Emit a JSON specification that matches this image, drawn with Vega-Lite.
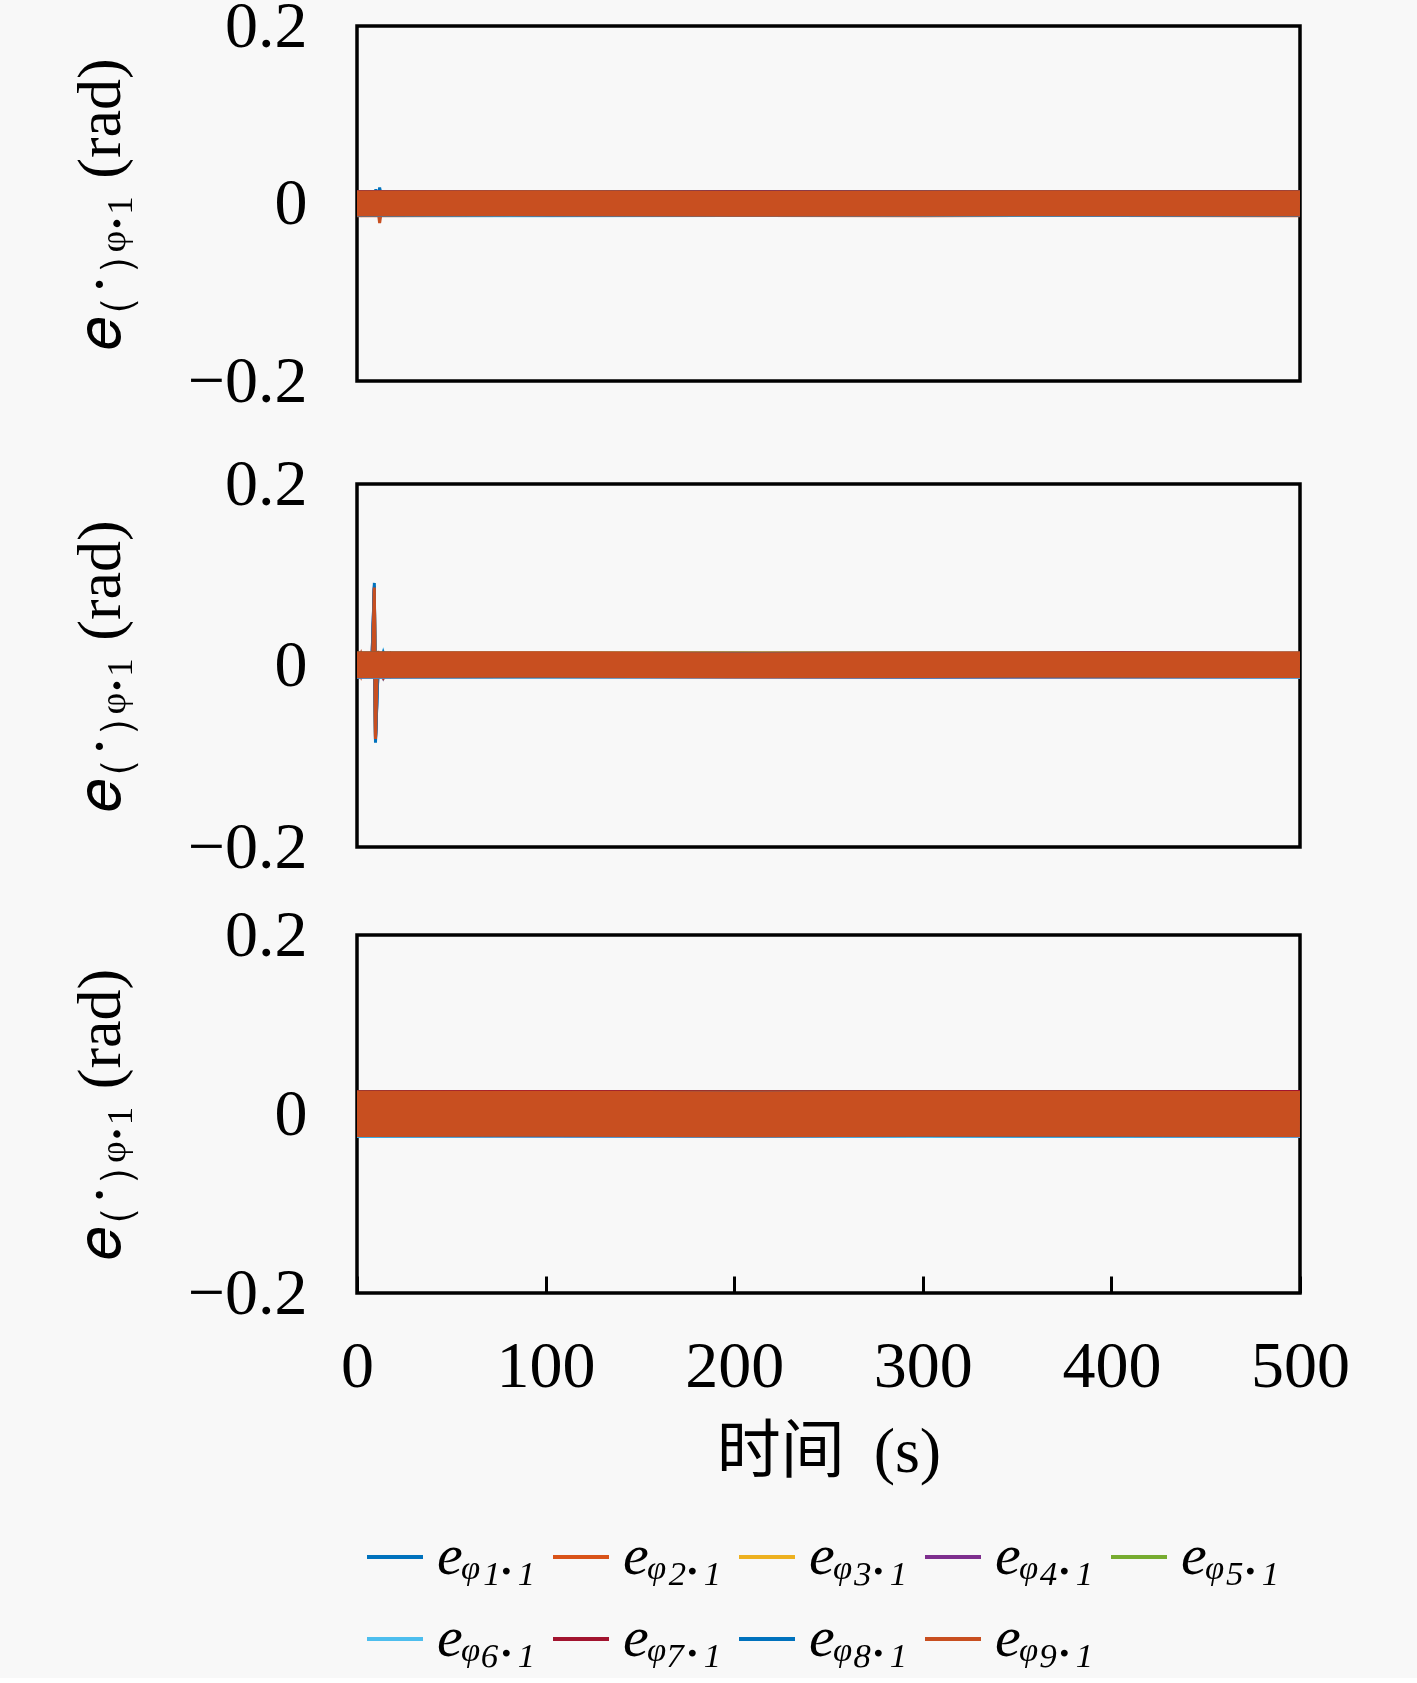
{
  "$schema": "https://vega.github.io/schema/vega-lite/v6.json",
  "background": "#f8f8f8",
  "padding": {"left": 67, "top": -9, "right": 69, "bottom": 10},
  "config": {
    "font": "Liberation Serif",
    "view": {"stroke": "#000", "strokeWidth": 3.5},
    "axis": {"grid": false, "domain": false, "labelFont": "Liberation Serif", "titleFont": "Liberation Serif, Noto Sans CJK SC", "labelColor": "#000", "titleColor": "#000", "titleFontWeight": "normal", "labelFontSize": 66, "titleFontSize": 62}
  },
  "datasets": {
    "band1": [
      {"s":1,"t":0,"v":0.0002},{"s":1,"t":100,"v":0},{"s":1,"t":200,"v":0.0002},{"s":1,"t":300,"v":0.0001},{"s":1,"t":400,"v":0.0002},{"s":1,"t":500,"v":0},
      {"s":2,"t":0,"v":-0.0008},{"s":2,"t":100,"v":-0.0006},{"s":2,"t":200,"v":-0.0005},{"s":2,"t":300,"v":-0.0008},{"s":2,"t":400,"v":-0.0006},{"s":2,"t":500,"v":-0.0008},
      {"s":3,"t":0,"v":0.0005},{"s":3,"t":100,"v":0.0007},{"s":3,"t":200,"v":0.0004},{"s":3,"t":300,"v":0.0006},{"s":3,"t":400,"v":0.0005},{"s":3,"t":500,"v":0.0007},
      {"s":4,"t":0,"v":-0.0005},{"s":4,"t":100,"v":-0.0004},{"s":4,"t":200,"v":-0.0006},{"s":4,"t":300,"v":-0.0005},{"s":4,"t":400,"v":-0.0007},{"s":4,"t":500,"v":-0.0005},
      {"s":5,"t":0,"v":0.0004},{"s":5,"t":100,"v":0.0005},{"s":5,"t":200,"v":0.0006},{"s":5,"t":300,"v":0.0004},{"s":5,"t":400,"v":0.0005},{"s":5,"t":500,"v":0.0006},
      {"s":6,"t":0,"v":-0.0006},{"s":6,"t":100,"v":-0.0008},{"s":6,"t":200,"v":-0.0005},{"s":6,"t":300,"v":-0.0006},{"s":6,"t":400,"v":-0.0004},{"s":6,"t":500,"v":-0.0006},
      {"s":7,"t":0,"v":0.0006},{"s":7,"t":100,"v":0.0004},{"s":7,"t":200,"v":0.0005},{"s":7,"t":300,"v":0.0007},{"s":7,"t":400,"v":0.0006},{"s":7,"t":500,"v":0.0004},
      {"s":8,"t":0,"v":-0.0002},{"s":8,"t":100,"v":0},{"s":8,"t":200,"v":-0.0002},{"s":8,"t":300,"v":-0.0001},{"s":8,"t":400,"v":0},{"s":8,"t":500,"v":-0.0002},
      {"s":9,"t":0,"v":0},{"s":9,"t":100,"v":0.0003},{"s":9,"t":200,"v":-0.0003},{"s":9,"t":300,"v":0},{"s":9,"t":400,"v":0.0003},{"s":9,"t":500,"v":0}
    ],
    "band2": [
      {"s":1,"t":0,"v":0.0007},{"s":1,"t":100,"v":0.0006},{"s":1,"t":200,"v":0.0007},{"s":1,"t":300,"v":0.0005},{"s":1,"t":400,"v":0.0006},{"s":1,"t":500,"v":0.0007},
      {"s":2,"t":0,"v":-0.0003},{"s":2,"t":100,"v":-0.0001},{"s":2,"t":200,"v":-0.0004},{"s":2,"t":300,"v":-0.0002},{"s":2,"t":400,"v":-0.0003},{"s":2,"t":500,"v":-0.0001},
      {"s":3,"t":0,"v":0.0011},{"s":3,"t":100,"v":0.0013},{"s":3,"t":200,"v":0.001},{"s":3,"t":300,"v":0.0012},{"s":3,"t":400,"v":0.0009},{"s":3,"t":500,"v":0.0011},
      {"s":4,"t":0,"v":-0.0001},{"s":4,"t":100,"v":0},{"s":4,"t":200,"v":0.0001},{"s":4,"t":300,"v":-0.0002},{"s":4,"t":400,"v":-0.0001},{"s":4,"t":500,"v":-0.0003},
      {"s":5,"t":0,"v":0.001},{"s":5,"t":100,"v":0.0009},{"s":5,"t":200,"v":0.0012},{"s":5,"t":300,"v":0.001},{"s":5,"t":400,"v":0.0011},{"s":5,"t":500,"v":0.0009},
      {"s":6,"t":0,"v":0},{"s":6,"t":100,"v":-0.0002},{"s":6,"t":200,"v":-0.0001},{"s":6,"t":300,"v":0.0001},{"s":6,"t":400,"v":0},{"s":6,"t":500,"v":-0.0002},
      {"s":7,"t":0,"v":0.0012},{"s":7,"t":100,"v":0.001},{"s":7,"t":200,"v":0.0009},{"s":7,"t":300,"v":0.0011},{"s":7,"t":400,"v":0.0013},{"s":7,"t":500,"v":0.001},
      {"s":8,"t":0,"v":0.0004},{"s":8,"t":100,"v":0.0006},{"s":8,"t":200,"v":0.0005},{"s":8,"t":300,"v":0.0004},{"s":8,"t":400,"v":0.0006},{"s":8,"t":500,"v":0.0005},
      {"s":9,"t":0,"v":0.0005},{"s":9,"t":100,"v":0.0008},{"s":9,"t":200,"v":0.0003},{"s":9,"t":300,"v":0.0006},{"s":9,"t":400,"v":0.0008},{"s":9,"t":500,"v":0.0005}
    ],
    "band3": [
      {"s":1,"t":0,"v":0.0002},{"s":1,"t":100,"v":0},{"s":1,"t":200,"v":0.0003},{"s":1,"t":300,"v":0.0001},{"s":1,"t":400,"v":0.0002},{"s":1,"t":500,"v":0},
      {"s":2,"t":0,"v":-0.001},{"s":2,"t":100,"v":-0.0008},{"s":2,"t":200,"v":-0.0011},{"s":2,"t":300,"v":-0.0009},{"s":2,"t":400,"v":-0.0008},{"s":2,"t":500,"v":-0.001},
      {"s":3,"t":0,"v":0.0008},{"s":3,"t":100,"v":0.001},{"s":3,"t":200,"v":0.0007},{"s":3,"t":300,"v":0.0009},{"s":3,"t":400,"v":0.0011},{"s":3,"t":500,"v":0.0008},
      {"s":4,"t":0,"v":-0.0008},{"s":4,"t":100,"v":-0.001},{"s":4,"t":200,"v":-0.0009},{"s":4,"t":300,"v":-0.0007},{"s":4,"t":400,"v":-0.001},{"s":4,"t":500,"v":-0.0009},
      {"s":5,"t":0,"v":0.0007},{"s":5,"t":100,"v":0.0009},{"s":5,"t":200,"v":0.001},{"s":5,"t":300,"v":0.0008},{"s":5,"t":400,"v":0.0007},{"s":5,"t":500,"v":0.001},
      {"s":6,"t":0,"v":-0.0011},{"s":6,"t":100,"v":-0.0009},{"s":6,"t":200,"v":-0.0008},{"s":6,"t":300,"v":-0.001},{"s":6,"t":400,"v":-0.0011},{"s":6,"t":500,"v":-0.0008},
      {"s":7,"t":0,"v":0.0009},{"s":7,"t":100,"v":0.0011},{"s":7,"t":200,"v":0.0008},{"s":7,"t":300,"v":0.0007},{"s":7,"t":400,"v":0.0009},{"s":7,"t":500,"v":0.0011},
      {"s":8,"t":0,"v":-0.0002},{"s":8,"t":100,"v":0},{"s":8,"t":200,"v":-0.0003},{"s":8,"t":300,"v":-0.0001},{"s":8,"t":400,"v":-0.0002},{"s":8,"t":500,"v":0},
      {"s":9,"t":0,"v":0},{"s":9,"t":100,"v":0.0004},{"s":9,"t":200,"v":-0.0004},{"s":9,"t":300,"v":0.0002},{"s":9,"t":400,"v":0.0004},{"s":9,"t":500,"v":0}
    ],
    "tr1": [
      {"s":1,"t":0,"v":0},{"s":1,"t":2,"v":0.008},{"s":1,"t":4,"v":-0.01},{"s":1,"t":6,"v":0.012},{"s":1,"t":8,"v":-0.009},{"s":1,"t":10,"v":0.016},{"s":1,"t":12,"v":-0.012},{"s":1,"t":14,"v":0.006},{"s":1,"t":17,"v":0},
      {"s":2,"t":0,"v":0},{"s":2,"t":2,"v":-0.009},{"s":2,"t":4,"v":0.011},{"s":2,"t":6,"v":-0.008},{"s":2,"t":8,"v":0.013},{"s":2,"t":10,"v":-0.011},{"s":2,"t":12,"v":0.009},{"s":2,"t":14,"v":-0.005},{"s":2,"t":17,"v":0},
      {"s":3,"t":0,"v":0},{"s":3,"t":2,"v":0.006},{"s":3,"t":4,"v":-0.008},{"s":3,"t":6,"v":0.01},{"s":3,"t":8,"v":-0.007},{"s":3,"t":10,"v":0.012},{"s":3,"t":12,"v":-0.01},{"s":3,"t":14,"v":0.005},{"s":3,"t":17,"v":0},
      {"s":4,"t":0,"v":0},{"s":4,"t":2,"v":-0.007},{"s":4,"t":4,"v":0.009},{"s":4,"t":6,"v":-0.011},{"s":4,"t":8,"v":0.008},{"s":4,"t":10,"v":-0.013},{"s":4,"t":12,"v":0.01},{"s":4,"t":14,"v":-0.004},{"s":4,"t":17,"v":0},
      {"s":5,"t":0,"v":0},{"s":5,"t":2,"v":0.005},{"s":5,"t":4,"v":-0.007},{"s":5,"t":6,"v":0.009},{"s":5,"t":8,"v":-0.006},{"s":5,"t":10,"v":0.011},{"s":5,"t":12,"v":-0.009},{"s":5,"t":14,"v":0.004},{"s":5,"t":17,"v":0},
      {"s":6,"t":0,"v":0},{"s":6,"t":2,"v":-0.01},{"s":6,"t":4,"v":0.012},{"s":6,"t":6,"v":-0.009},{"s":6,"t":8,"v":0.014},{"s":6,"t":10,"v":-0.01},{"s":6,"t":12,"v":0.016},{"s":6,"t":14,"v":-0.006},{"s":6,"t":17,"v":0},
      {"s":7,"t":0,"v":0},{"s":7,"t":2,"v":0.007},{"s":7,"t":4,"v":-0.009},{"s":7,"t":6,"v":0.008},{"s":7,"t":8,"v":-0.01},{"s":7,"t":10,"v":0.009},{"s":7,"t":12,"v":-0.008},{"s":7,"t":14,"v":0.004},{"s":7,"t":17,"v":0},
      {"s":8,"t":0,"v":0},{"s":8,"t":2,"v":-0.008},{"s":8,"t":4,"v":0.01},{"s":8,"t":6,"v":-0.012},{"s":8,"t":8,"v":0.011},{"s":8,"t":10,"v":-0.014},{"s":8,"t":12,"v":0.018},{"s":8,"t":14,"v":-0.006},{"s":8,"t":17,"v":0},
      {"s":9,"t":0,"v":0},{"s":9,"t":2,"v":0.009},{"s":9,"t":4,"v":-0.011},{"s":9,"t":6,"v":0.01},{"s":9,"t":8,"v":-0.012},{"s":9,"t":10,"v":0.013},{"s":9,"t":12,"v":-0.022},{"s":9,"t":14,"v":0.007},{"s":9,"t":17,"v":0}
    ],
    "tr2": [
      {"s":1,"t":0,"v":0},{"s":1,"t":2,"v":0.01},{"s":1,"t":4,"v":-0.012},{"s":1,"t":6,"v":0.009},{"s":1,"t":8,"v":-0.011},{"s":1,"t":9.2,"v":0.086},{"s":1,"t":9.8,"v":-0.08},{"s":1,"t":11,"v":0.014},{"s":1,"t":14,"v":-0.012},{"s":1,"t":18,"v":0.01},{"s":1,"t":24,"v":-0.008},{"s":1,"t":30,"v":0.006},{"s":1,"t":38,"v":0},
      {"s":2,"t":0,"v":0},{"s":2,"t":2,"v":-0.011},{"s":2,"t":4,"v":0.01},{"s":2,"t":6,"v":-0.012},{"s":2,"t":8,"v":0.009},{"s":2,"t":9.2,"v":0.084},{"s":2,"t":9.8,"v":-0.079},{"s":2,"t":11,"v":-0.013},{"s":2,"t":14,"v":0.012},{"s":2,"t":18,"v":-0.009},{"s":2,"t":24,"v":0.008},{"s":2,"t":30,"v":-0.005},{"s":2,"t":38,"v":0},
      {"s":3,"t":0,"v":0},{"s":3,"t":2,"v":0.009},{"s":3,"t":4,"v":-0.01},{"s":3,"t":6,"v":0.011},{"s":3,"t":8,"v":-0.01},{"s":3,"t":9.2,"v":0.082},{"s":3,"t":9.8,"v":-0.078},{"s":3,"t":11,"v":0.012},{"s":3,"t":14,"v":-0.011},{"s":3,"t":18,"v":0.008},{"s":3,"t":24,"v":-0.007},{"s":3,"t":30,"v":0.005},{"s":3,"t":38,"v":0},
      {"s":4,"t":0,"v":0},{"s":4,"t":2,"v":-0.01},{"s":4,"t":4,"v":0.011},{"s":4,"t":6,"v":-0.009},{"s":4,"t":8,"v":0.012},{"s":4,"t":9.2,"v":0.088},{"s":4,"t":9.8,"v":-0.082},{"s":4,"t":11,"v":-0.012},{"s":4,"t":14,"v":0.013},{"s":4,"t":18,"v":-0.01},{"s":4,"t":24,"v":0.009},{"s":4,"t":30,"v":-0.006},{"s":4,"t":38,"v":0},
      {"s":5,"t":0,"v":0},{"s":5,"t":2,"v":0.008},{"s":5,"t":4,"v":-0.009},{"s":5,"t":6,"v":0.01},{"s":5,"t":8,"v":-0.009},{"s":5,"t":9.2,"v":0.083},{"s":5,"t":9.8,"v":-0.077},{"s":5,"t":11,"v":0.011},{"s":5,"t":14,"v":-0.01},{"s":5,"t":18,"v":0.009},{"s":5,"t":24,"v":-0.006},{"s":5,"t":30,"v":0.004},{"s":5,"t":38,"v":0},
      {"s":6,"t":0,"v":0},{"s":6,"t":2,"v":-0.012},{"s":6,"t":4,"v":0.013},{"s":6,"t":6,"v":-0.011},{"s":6,"t":8,"v":0.01},{"s":6,"t":9.2,"v":0.087},{"s":6,"t":9.8,"v":-0.083},{"s":6,"t":11,"v":-0.015},{"s":6,"t":14,"v":0.014},{"s":6,"t":18,"v":-0.011},{"s":6,"t":24,"v":0.009},{"s":6,"t":30,"v":-0.006},{"s":6,"t":38,"v":0},
      {"s":7,"t":0,"v":0},{"s":7,"t":2,"v":0.011},{"s":7,"t":4,"v":-0.01},{"s":7,"t":6,"v":0.012},{"s":7,"t":8,"v":-0.011},{"s":7,"t":9.2,"v":0.085},{"s":7,"t":9.8,"v":-0.081},{"s":7,"t":11,"v":0.013},{"s":7,"t":14,"v":-0.012},{"s":7,"t":18,"v":0.01},{"s":7,"t":24,"v":-0.008},{"s":7,"t":30,"v":0.005},{"s":7,"t":38,"v":0},
      {"s":8,"t":0,"v":0},{"s":8,"t":2,"v":-0.009},{"s":8,"t":4,"v":0.012},{"s":8,"t":6,"v":-0.01},{"s":8,"t":8,"v":0.011},{"s":8,"t":9.2,"v":0.091},{"s":8,"t":9.8,"v":-0.085},{"s":8,"t":11,"v":-0.014},{"s":8,"t":14,"v":0.013},{"s":8,"t":18,"v":-0.011},{"s":8,"t":24,"v":0.009},{"s":8,"t":30,"v":-0.006},{"s":8,"t":38,"v":0},
      {"s":9,"t":0,"v":0},{"s":9,"t":2,"v":0.012},{"s":9,"t":4,"v":-0.011},{"s":9,"t":6,"v":0.013},{"s":9,"t":8,"v":-0.012},{"s":9,"t":9.2,"v":0.086},{"s":9,"t":9.8,"v":-0.081},{"s":9,"t":11,"v":0.016},{"s":9,"t":14,"v":-0.015},{"s":9,"t":18,"v":0.012},{"s":9,"t":24,"v":-0.01},{"s":9,"t":30,"v":0.007},{"s":9,"t":38,"v":0}
    ]
  },
  "vconcat": [
    {
      "spacing": 33,
      "vconcat": [
        {
          "width": 943,
          "height": 355,
          "encoding": {
            "x": {"field": "t", "type": "quantitative", "scale": {"domain": [0, 500], "nice": false}, "axis": null},
            "y": {"field": "v", "type": "quantitative", "scale": {"domain": [-0.2, 0.2], "nice": false},
              "axis": {"values": [-0.2, 0, 0.2], "format": "~g", "ticks": false, "labelPadding": 50, "title": "𝑒₍·₎ᵩ.₁ (rad)", "titlePadding": 55}},
            "color": {"field": "s", "type": "nominal",
              "scale": {"domain": [1, 2, 3, 4, 5, 6, 7, 8, 9], "range": ["#0072BD", "#D95319", "#EDB120", "#7E2F8E", "#77AC30", "#4DBEEE", "#A2142F", "#0072BD", "#C84F20"]}}
          },
          "layer": [
            {"data": {"name": "tr1"}, "mark": {"type": "line", "strokeWidth": 3, "clip": true}},
            {"data": {"name": "band1"}, "mark": {"type": "line", "strokeWidth": 26, "clip": true}}
          ]
        },
        {
          "width": 943,
          "height": 363,
          "encoding": {
            "x": {"field": "t", "type": "quantitative", "scale": {"domain": [0, 500], "nice": false}, "axis": null},
            "y": {"field": "v", "type": "quantitative", "scale": {"domain": [-0.2, 0.2], "nice": false},
              "axis": {"values": [-0.2, 0, 0.2], "format": "~g", "ticks": false, "labelPadding": 50, "title": "𝑒₍·₎ᵩ.₁ (rad)", "titlePadding": 55}},
            "color": {"field": "s", "type": "nominal"}
          },
          "layer": [
            {"data": {"name": "tr2"}, "mark": {"type": "line", "strokeWidth": 3, "clip": true}},
            {"data": {"name": "band2"}, "mark": {"type": "line", "strokeWidth": 26, "clip": true}}
          ]
        }
      ]
    },
    {
      "width": 943,
      "height": 358,
      "data": {"name": "band3"},
      "encoding": {
        "x": {"field": "t", "type": "quantitative", "scale": {"domain": [0, 500], "nice": false},
          "axis": {"values": [0, 100, 200, 300, 400, 500], "tickSize": -17, "tickWidth": 3, "tickColor": "#000", "labelPadding": 58, "labelFlush": false, "title": "时间 \u2009(s)", "titleFontSize": 64, "titlePadding": 21}},
        "y": {"field": "v", "type": "quantitative", "scale": {"domain": [-0.2, 0.2], "nice": false},
          "axis": {"values": [-0.2, 0, 0.2], "format": "~g", "ticks": false, "labelPadding": 50, "title": "𝑒₍·₎ᵩ.₁ (rad)", "titlePadding": 55}},
        "color": {"field": "s", "type": "nominal",
          "legend": {"orient": "none", "legendX": 8, "legendY": 1501, "title": null, "columns": 5, "direction": "horizontal", "gridAlign": "all",
            "symbolType": "stroke", "symbolSize": 3136, "symbolStrokeWidth": 4, "labelFont": "Liberation Serif", "labelFontSize": 58, "labelFontStyle": "italic", "labelColor": "#000",
            "labelOffset": 12, "columnPadding": 9, "rowPadding": 23,
            "labelExpr": "'eᵩ' + ['₁','₂','₃','₄','₅','₆','₇','₈','₉'][datum.value - 1] + '.₁'"}}
      },
      "mark": {"type": "line", "strokeWidth": 46, "clip": true}
    }
  ],
  "spacing": 18
}
